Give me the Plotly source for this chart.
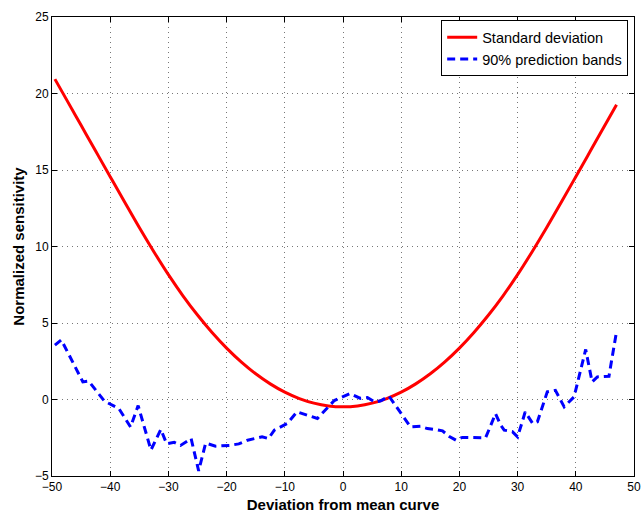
import plotly.graph_objects as go

# Standard deviation curve
std_x = [-49.5, -47.5, -45, -42.5, -40, -37.5, -35, -32.5, -30, -27.5, -25, -22.5, -20, -17.5, -15,
         -12.5, -10, -7.5, -5, -2.5, 0, 2.5, 5, 7.5, 10, 12.5, 15, 17.5, 20, 22.5, 25, 27.5, 30,
         32.5, 35, 37.5, 40, 42.5, 45, 47]
std_y = [20.94, 19.6, 17.92, 16.24, 14.56, 12.89, 11.24, 9.66, 8.16, 6.78, 5.52, 4.38, 3.36, 2.46, 1.68,
         1.02, 0.48, 0.06, -0.24, -0.42, -0.48, -0.42, -0.24, 0.06, 0.48, 1.02, 1.68, 2.46, 3.36,
         4.38, 5.52, 6.78, 8.16, 9.66, 11.24, 12.89, 14.56, 16.24, 17.92, 19.26]

# 90% prediction bands
band_x = [-49.5, -48.4, -44.7, -43.7, -41, -39.6, -38.5, -36.5, -35.2, -33, -31.3, -30.3, -29,
          -27.9, -26.1, -24.8, -23.6, -21.9, -19.5, -17.9, -16.4, -13.9, -12.8, -11.8, -9.6,
          -7.9, -4.4, -1.5, 0.5, 1.2, 3.0, 4.2, 5.5, 6.5, 7.9, 9.8, 11.6, 13.3, 14.5, 15.9,
          17.1, 18.2, 19.4, 20.5, 21.9, 23.4, 24.5, 25.4, 26.2, 27.1, 27.7, 29.1, 30.0, 30.8,
          31.3, 32.6, 33.4, 35.1, 36.5, 38.0, 39.7, 41.7, 42.8, 43.7, 45.7, 47.0]
band_y = [3.55, 3.9, 1.15, 1.2, -0.1, -0.4, -0.6, -1.8, -0.4, -3.3, -1.95, -2.9, -2.8,
          -3.0, -2.55, -4.67, -2.85, -3.05, -3.0, -2.9, -2.66, -2.44, -2.55, -2.0, -1.57,
          -0.81, -1.24, -0.07, 0.3, 0.39, 0.07, 0.13, -0.17, -0.08, 0.22, -0.8, -1.79, -1.75, -1.9, -1.96,
          -2.05, -2.4, -2.66, -2.48, -2.48, -2.5, -2.5, -1.68, -0.92, -1.68, -2.0, -2.1, -2.44, -1.46,
          -0.81, -1.57, -1.46, 0.5, 0.6, -0.48, 0.17, 3.27, 1.15, 1.48, 1.52, 4.45]

x_ticks = [-50, -40, -30, -20, -10, 0, 10, 20, 30, 40, 50]
y_ticks = [-5, 0, 5, 10, 15, 20, 25]

fig = go.Figure()
fig.add_trace(go.Scatter(x=std_x, y=std_y, mode="lines", name="Standard deviation",
                         line=dict(color="#ff0000", width=3, shape="spline", smoothing=1.0)))
fig.add_trace(go.Scatter(x=band_x, y=band_y, mode="lines", name="90% prediction bands",
                         line=dict(color="#0000ff", width=3, dash="8px,5px")))

axis_common = dict(
    showline=True, linecolor="black", linewidth=1, mirror="ticks",
    ticks="inside", ticklen=5, tickcolor="black",
    showgrid=True, gridcolor="#777777", gridwidth=1, griddash="1px,4px",
    zeroline=False, automargin=False,
    tickfont=dict(family="Liberation Sans, Arial", size=12, color="black"),
)

fig.update_xaxes(range=[-50, 50], tickvals=x_ticks, **axis_common,
                 title=dict(text="<b>Deviation from mean curve</b>", standoff=6,
                            font=dict(family="Liberation Sans, Arial", size=15, color="black")))
fig.update_yaxes(range=[-5, 25], tickvals=y_ticks, **axis_common,
                 title=dict(text="<b>Normalized sensitivity</b>", standoff=6,
                            font=dict(family="Liberation Sans, Arial", size=15, color="black")))

fig.update_layout(
    width=642, height=513,
    margin=dict(l=52, r=8, t=17, b=37),
    paper_bgcolor="white", plot_bgcolor="white",
    showlegend=True,
    legend=dict(x=0.99, y=0.993, xanchor="right", yanchor="top",
                bgcolor="white", bordercolor="black", borderwidth=1,
                font=dict(family="Liberation Sans, Arial", size=14.5, color="black"),
                tracegroupgap=0, itemwidth=30),
)

fig.write_html("out.html")
